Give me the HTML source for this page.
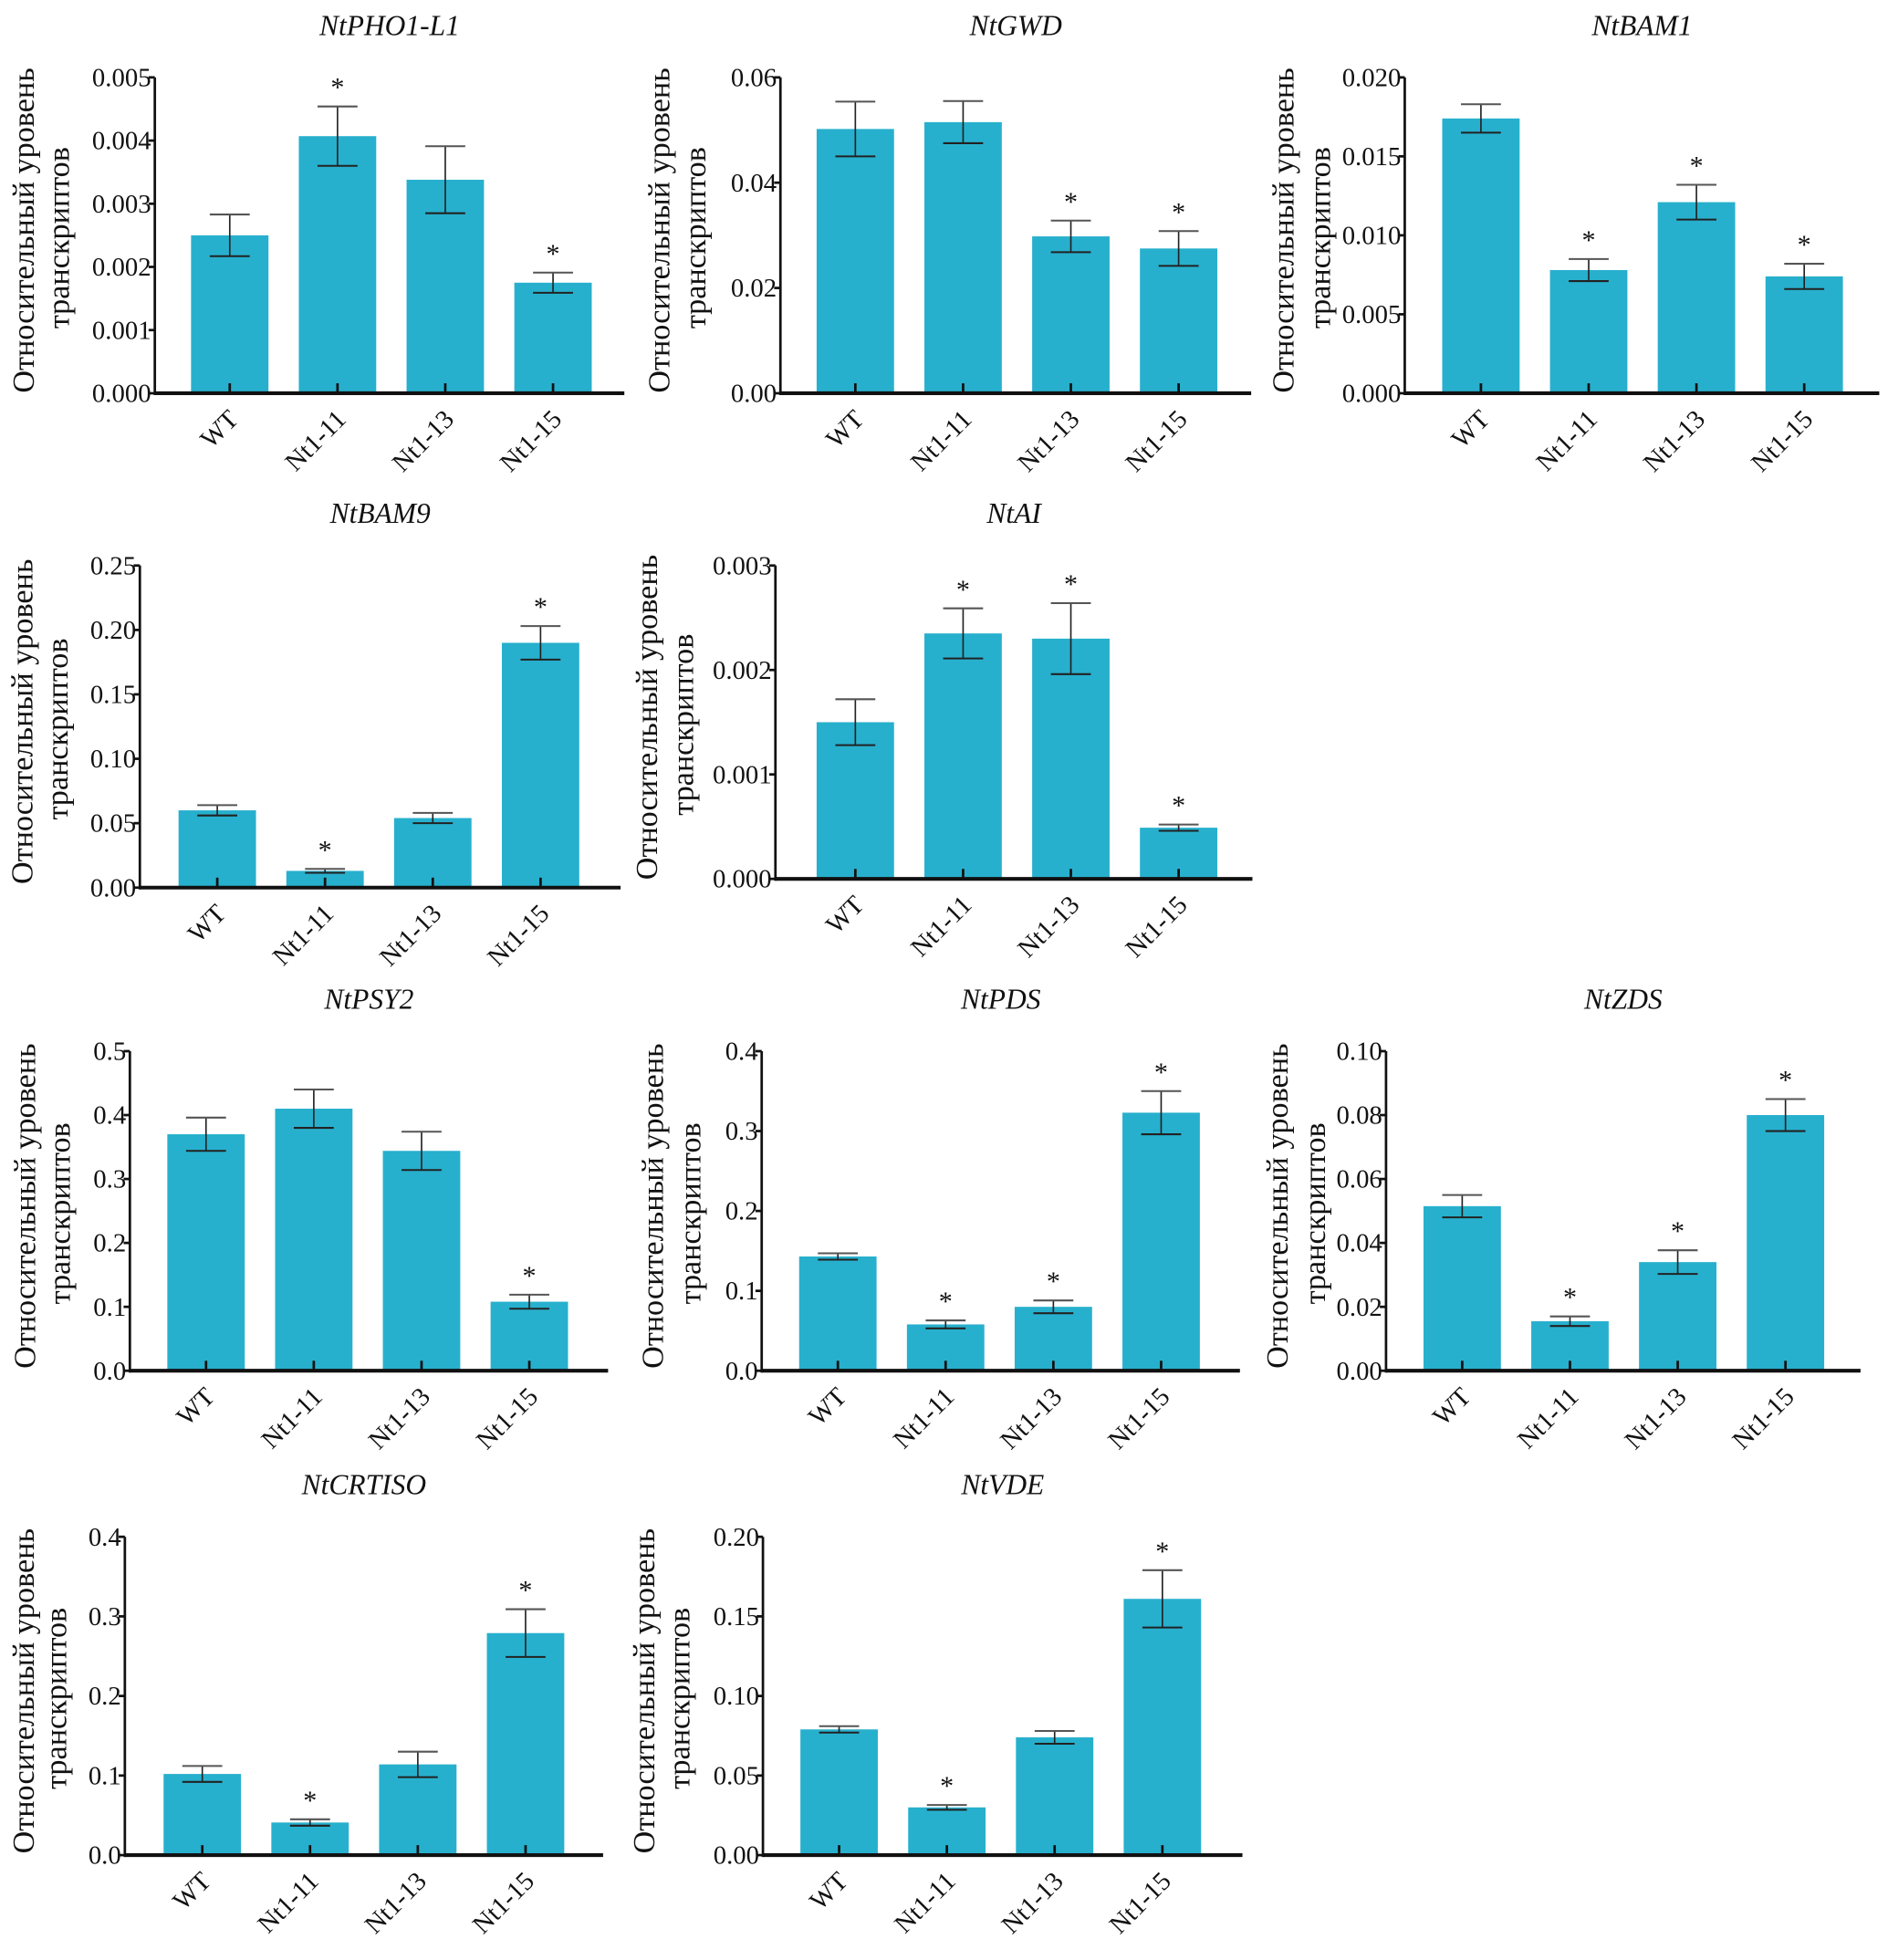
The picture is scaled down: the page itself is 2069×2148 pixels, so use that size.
<!DOCTYPE html>
<html><head><meta charset="utf-8"><style>
html,body{margin:0;padding:0;background:#fff;}
svg{display:block;}
text{font-family:"Liberation Serif",serif;fill:#111;}
</style></head><body>
<svg id="chart" width="2069" height="2148" viewBox="0 0 1512 1570" preserveAspectRatio="none" xmlns="http://www.w3.org/2000/svg"></svg>
<script>
const categories = ["WT","Nt1-11","Nt1-13","Nt1-15"];
const titles = ["NtPHO1-L1","NtGWD","NtBAM1","NtBAM9","NtAI","NtPSY2","NtPDS","NtZDS","NtCRTISO","NtVDE"];
const yMax = [0.005,0.06,0.02,0.25,0.003,0.5,0.4,0.10,0.4,0.20];
const yStep = [0.001,0.02,0.005,0.05,0.001,0.1,0.1,0.02,0.1,0.05];
const yDec = [3,2,3,2,3,1,1,2,1,2];
const values = [
 [0.0025,0.00407,0.00338,0.00175],
 [0.0502,0.0515,0.0298,0.0275],
 [0.0174,0.0078,0.0121,0.0074],
 [0.060,0.013,0.054,0.190],
 [0.0015,0.00235,0.0023,0.00049],
 [0.37,0.41,0.344,0.108],
 [0.143,0.058,0.080,0.323],
 [0.0515,0.0155,0.034,0.080],
 [0.102,0.041,0.114,0.279],
 [0.079,0.030,0.074,0.161]
];
const errors = [
 [0.00033,0.00047,0.00053,0.00016],
 [0.0052,0.004,0.003,0.0033],
 [0.0009,0.0007,0.0011,0.0008],
 [0.004,0.0015,0.004,0.013],
 [0.00022,0.00024,0.00034,0.00003],
 [0.026,0.03,0.03,0.011],
 [0.004,0.005,0.008,0.027],
 [0.0035,0.0015,0.0037,0.005],
 [0.01,0.004,0.016,0.03],
 [0.002,0.0015,0.004,0.018]
];
const signif = [
 [0,1,0,1],[0,0,1,1],[0,1,1,1],[0,1,0,1],[0,1,1,1],
 [0,0,0,1],[0,1,1,1],[0,1,1,1],[0,1,0,1],[0,1,0,1]
];
// layout: axisX, top, bottom, first bar left, xEnd, label line1 x, label line2 x
const layout = [
 [124,62,315,153,500,18,46],[625,62,315,654,1002,527,556],[1125,62,315,1155,1505,1027,1056],
 [112,453,711,143,497,17,45],[621,453,704,654,1003,517,546],
 [104,842,1098,134,487,19,47],[610,842,1098,640,993,522,552],[1110,842,1098,1140,1490,1022,1052],
 [100,1231,1486,131,483,18,44],[611,1231,1486,641,995,515,543]
];
const NS="http://www.w3.org/2000/svg";
const svg=document.getElementById('chart');
function mk(tag,attrs,parent){const e=document.createElementNS(NS,tag);for(const k in attrs)e.setAttribute(k,attrs[k]);(parent||svg).appendChild(e);return e;}
titles.forEach((t,p)=>{
 const [ax,top,bot,bx0,xe,lx1,lx2]=layout[p];
 const g=mk('g',{});
 
 
 const y=v=>bot-(v/yMax[p])*(bot-top);
 const xc=i=>bx0+31+i*86.3;
 const tt=mk('text',{x:(ax+xe)/2,y:top-34,'text-anchor':'middle','font-size':23,'font-style':'italic'},g);
 tt.textContent=t;
 
 
 const cy=(top+bot)/2-4;
 const l1=mk('text',{x:0,y:0,'text-anchor':'middle','font-size':25,transform:`translate(${lx1+9},${cy}) rotate(-90)`},g);
 l1.textContent='Относительный уровень';
 
 
 const l2=mk('text',{x:0,y:0,'text-anchor':'middle','font-size':25,transform:`translate(${lx2+9},${cy+6}) rotate(-90)`},g);
 l2.textContent='транскриптов';
 
 
 categories.forEach((c,i)=>{
  const v=values[p][i],e=errors[p][i];
  const r=mk('rect',{x:xc(i)-31,y:y(v),width:62,height:bot-y(v),fill:'#27b0cd'},g);
  
  
  mk('line',{x1:xc(i),x2:xc(i),y1:y(v+e),y2:y(v-e),stroke:'#222','stroke-width':1.2},g);
  mk('line',{x1:xc(i)-16,x2:xc(i)+16,y1:y(v+e),y2:y(v+e),stroke:'#555','stroke-width':1.5},g);
  mk('line',{x1:xc(i)-16,x2:xc(i)+16,y1:y(v-e),y2:y(v-e),stroke:'#222','stroke-width':1.5},g);
  if(signif[p][i]){const s=mk('text',{x:xc(i),y:y(v+e)-8,'text-anchor':'middle','font-size':22},g);s.textContent='*';
   
   }
  mk('line',{x1:xc(i),x2:xc(i),y1:bot,y2:bot-8,stroke:'#111','stroke-width':2},g);
  const lb=mk('text',{x:0,y:0,'text-anchor':'end','font-size':21,transform:`translate(${xc(i)+8},${bot+22}) rotate(-45)`},g);
  lb.textContent=c;
  
  
 });
 const n=Math.round(yMax[p]/yStep[p]);
 for(let k=0;k<=n;k++){
  const v=k*yStep[p];
  mk('line',{x1:ax-5,x2:ax,y1:y(v),y2:y(v),stroke:'#111','stroke-width':2},g);
  const tl=mk('text',{x:ax-3,y:y(v)+7,'text-anchor':'end','font-size':21},g);
  tl.textContent=v.toFixed(yDec[p]);
  
  
 }
 mk('line',{x1:ax,x2:ax,y1:top,y2:bot+1.5,stroke:'#111','stroke-width':2},g);
 mk('line',{x1:ax,x2:xe,y1:bot,y2:bot,stroke:'#111','stroke-width':3},g);
});
</script>
</body></html>
